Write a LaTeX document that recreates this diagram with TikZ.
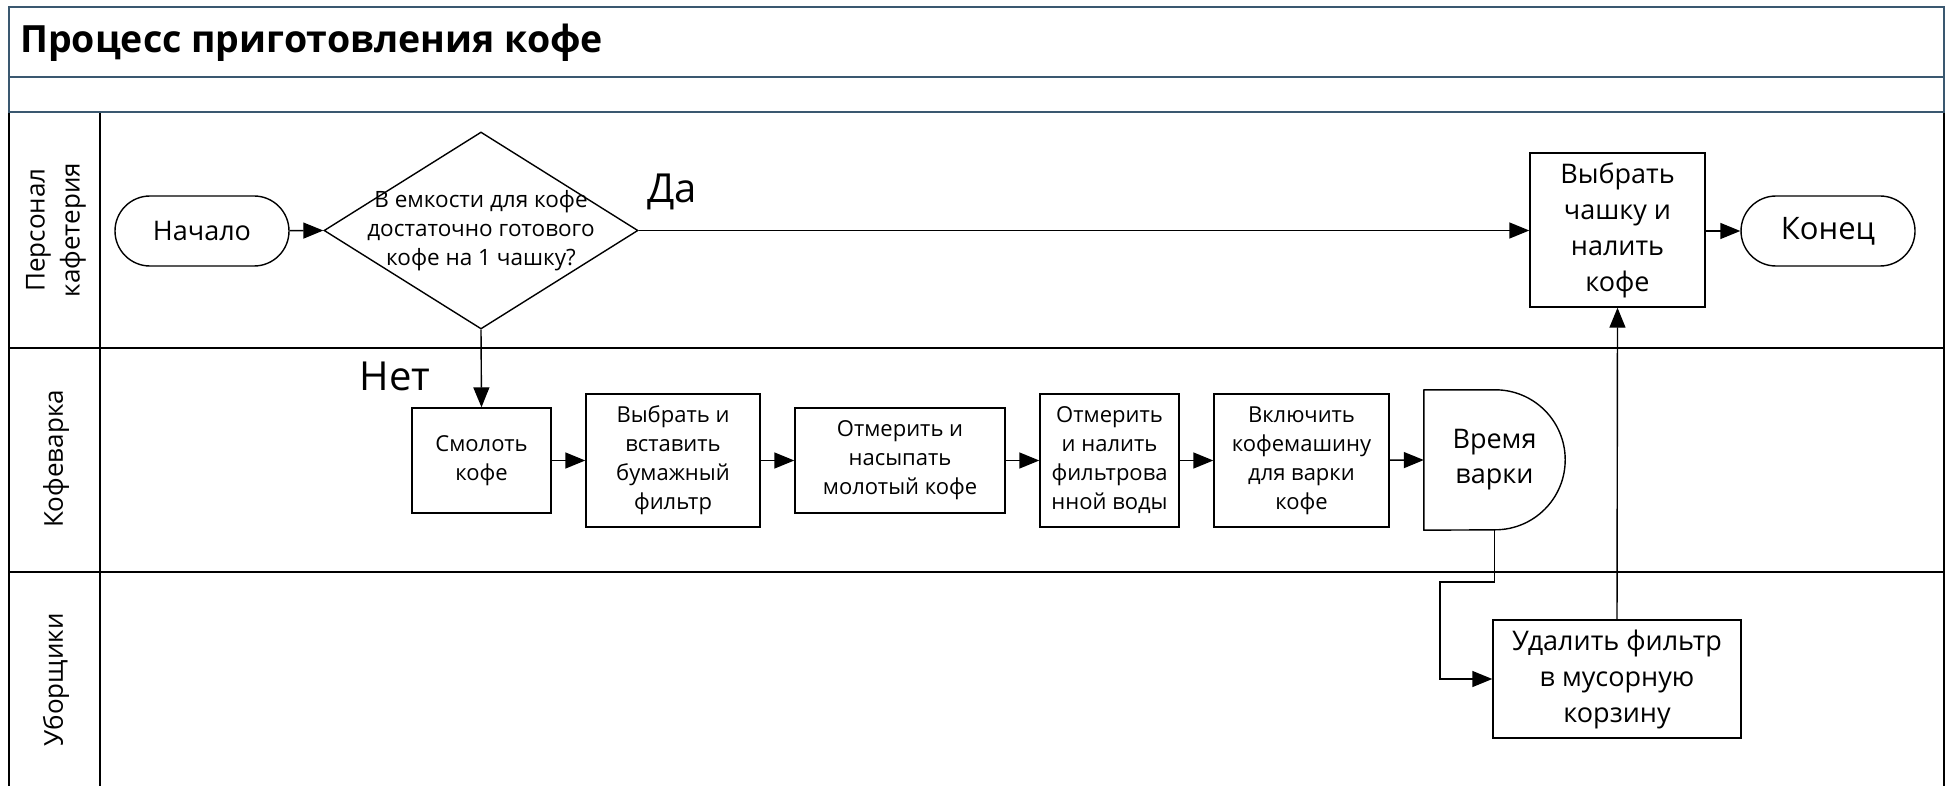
\documentclass[tikz,border=0pt]{standalone}
\usepackage{fontspec}
\setmainfont{Open Sans}
\usetikzlibrary{arrows.meta,shapes.geometric}
\definecolor{hdr}{HTML}{3A5870}
\begin{document}
\begin{tikzpicture}[x=1pt,y=-1pt,
  box/.style={draw, line width=1.4pt, inner sep=0pt, align=center, font=\fontsize{22}{29}\selectfont},
  bigbox/.style={box, font=\fontsize{27}{36}\selectfont},
  term/.style={bigbox, rounded corners=35pt, minimum height=70pt, minimum width=174pt},
  conn/.style={line width=1.4pt, -{Triangle[length=20pt,width=16pt]}},
  lane/.style={line width=2pt, black},
  hdrline/.style={line width=2.5pt, hdr},
  lanelabel/.style={rotate=90, align=center, font=\fontsize{26}{35}\selectfont},
  branch/.style={font=\fontsize{40}{44}\selectfont},
]
\useasboundingbox (0,0) rectangle (1948,786);
% lanes
\draw[lane] (9,112) -- (9,792);
\draw[lane] (1944,112) -- (1944,792);
\draw[lane] (100,112) -- (100,792);
\draw[lane] (9,348) -- (1944,348);
\draw[lane] (9,572) -- (1944,572);
% header
\draw[hdrline] (9,7) rectangle (1944,112);
\draw[hdrline] (9,77) -- (1944,77);
\node[anchor=base west, inner sep=0pt, font=\fontsize{37.5}{40}\selectfont\bfseries] (title) at (20,53) {Процесс приготовления кофе};
% lane labels
\node[lanelabel] (l1) at (56,230) {Персонал\\кафетерия};
\node[lanelabel] (l2) at (56,459) {Кофеварка};
\node[lanelabel] (l3) at (56,680) {Уборщики};
% nodes
\node[term] (start) at (202,231) {Начало};
\node[draw, diamond, line width=1.4pt, inner sep=0pt, minimum width=314pt, minimum height=197pt] (dec) at (481,230.5) {};
\node[align=center, font=\fontsize{22.5}{29}\selectfont] (dectext) at (481,230.5) {В емкости для кофе\\достаточно готового\\кофе на 1 чашку?};
\node[box, minimum width=139pt, minimum height=105pt] (grind) at (481.5,460.5) {Смолоть\\кофе};
\node[box, minimum width=174pt, minimum height=133pt] (filter) at (673,460.5) {Выбрать и\\вставить\\бумажный\\фильтр};
\node[box, minimum width=210pt, minimum height=105pt] (measure) at (900,460.5) {Отмерить и\\насыпать\\молотый кофе};
\node[box, minimum width=139pt, minimum height=133pt] (water) at (1109.5,460.5) {Отмерить\\и налить\\фильтрова\\нной воды};
\node[box, minimum width=175pt, minimum height=133pt] (switch) at (1301.5,460.5) {Включить\\кофемашину\\для варки\\кофе};
\node[inner sep=0pt, minimum width=141pt, minimum height=140pt, align=center, font=\fontsize{27}{35}\selectfont] (brew) at (1494.5,460) {Время\\варки};
\draw[line width=1.4pt, line join=round] (brew.south west) -- (brew.north west) -- ([xshift=-70pt]brew.north east) arc[start angle=90, end angle=-90, radius=70pt] -- cycle;
\node[bigbox, minimum width=248pt, minimum height=118pt] (del) at (1617,679) {Удалить фильтр\\в мусорную\\корзину};
\node[bigbox, minimum width=175pt, minimum height=154pt] (cup) at (1617.5,230) {Выбрать\\чашку и\\налить\\кофе};
\node[term, font=\fontsize{31}{36}\selectfont] (end) at (1828,231) {Конец};
% labels
\node[branch] (yes) at (672,192) {Да};
\node[branch] (no) at (395,376) {Нет};
% connectors
\draw[conn] (start) -- (dec.west);
\draw[conn] (dec.east) -- (cup.west |- dec.east);
\draw[conn] (dec.south) -- (grind.north);
\draw[conn] (grind) -- (filter);
\draw[conn] (filter) -- (measure);
\draw[conn] (measure) -- (water);
\draw[conn] (water) -- (switch);
\draw[conn] (switch) -- (brew.west);
\coordinate (c1) at (1494.5,582);
\coordinate (c2) at (1440,582);
\draw[conn] (brew.south) -- (c1) -- (c2) |- (del.west);
\draw[conn] (del.north) -- (cup.south);
\draw[conn] (cup.east |- end.west) -- (end.west);
\end{tikzpicture}
\end{document}
